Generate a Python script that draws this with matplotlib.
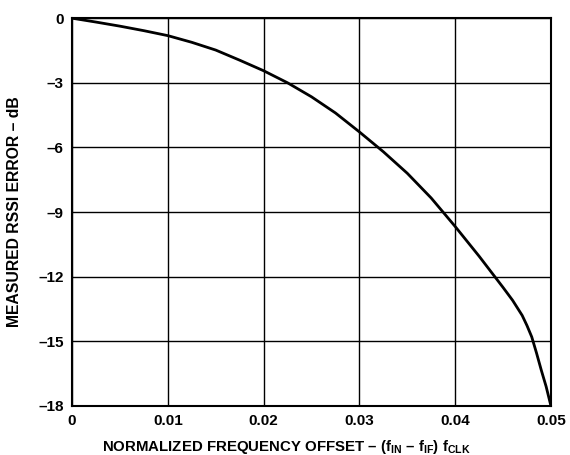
import matplotlib
matplotlib.use("Agg")
import matplotlib.pyplot as plt

# Values
offset = [0.0, 0.0025, 0.005, 0.0075, 0.01, 0.0125, 0.015, 0.0175, 0.02,
          0.0225, 0.025, 0.0275, 0.03, 0.0325, 0.035, 0.0375, 0.04, 0.0425,
          0.045, 0.046, 0.0465, 0.047, 0.0475, 0.048, 0.0485, 0.049, 0.0495, 0.05]
rssi_error = [0.0, -0.18, -0.37, -0.58, -0.81, -1.12, -1.48, -1.95, -2.44,
              -3.0, -3.65, -4.4, -5.28, -6.2, -7.2, -8.35, -9.67, -11.05,
              -12.5, -13.1, -13.45, -13.8, -14.27, -14.8, -15.55, -16.35, -17.1, -18.0]

xticks = [0, 0.01, 0.02, 0.03, 0.04, 0.05]
xticklabels = ["0", "0.01", "0.02", "0.03", "0.04", "0.05"]
yticks = [0, -3, -6, -9, -12, -15, -18]
yticklabels = ["0", "\u20133", "\u20136", "\u20139", "\u201312", "\u201315", "\u201318"]

plt.rcParams["font.family"] = ["Liberation Sans", "DejaVu Sans"]
plt.rcParams["font.weight"] = "bold"
plt.rcParams["mathtext.fontset"] = "custom"
plt.rcParams["mathtext.bf"] = "Liberation Sans:bold"
plt.rcParams["mathtext.rm"] = "Liberation Sans:bold"
plt.rcParams["mathtext.default"] = "bf"

fig = plt.figure(figsize=(5.7, 4.55), dpi=100)
ax = fig.add_axes([0.1265, 0.108, 0.840, 0.852])

ax.plot(offset, rssi_error, color="black", lw=2.0, solid_capstyle="butt",
        solid_joinstyle="round")

ax.set_xlim(0, 0.05)
ax.set_ylim(-18, 0)
ax.set_xticks(xticks)
ax.set_xticklabels(xticklabels)
ax.set_yticks(yticks)
ax.set_yticklabels(yticklabels)
ax.tick_params(length=0, labelsize=11, pad=6)
ax.grid(True, color="black", lw=1.0)
for s in ax.spines.values():
    s.set_linewidth(1.5)

ax.set_xlabel("NORMALIZED FREQUENCY OFFSET \u2013 (f$_{IN}$ \u2013 f$_{IF}$) f$_{CLK}$",
              fontsize=10.8, fontweight="bold")
ax.xaxis.set_label_coords(0.447, -0.082)
ax.set_ylabel("MEASURED RSSI ERROR \u2013 dB", fontsize=11.3, fontweight="bold")
ax.yaxis.set_label_coords(-0.104, 0.5)

fig.savefig("out.png", dpi=100)
